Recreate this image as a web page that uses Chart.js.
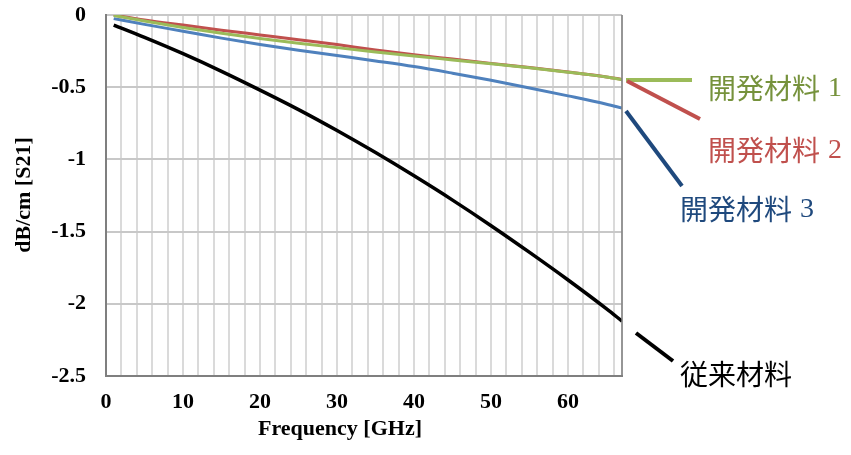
<!DOCTYPE html>
<html>
<head>
<meta charset="utf-8">
<script src="https://cdn.jsdelivr.net/npm/chart.js@4.4.1/dist/chart.umd.min.js"></script>
<style>
  html, body { margin: 0; padding: 0; background: #fff; }
  #wrap { width: 851px; height: 455px; }
</style>
</head>
<body>
<div id="wrap"><canvas id="lossChart" width="851" height="455"></canvas></div>
<script>
// frequency points [GHz]
const freq = [1, 5, 10, 15, 20, 25, 30, 35, 40, 45, 50, 55, 60, 65, 67];

// transmission loss dB/cm [S21]
const conventional = [-0.07, -0.155, -0.268, -0.39, -0.52, -0.655, -0.80, -0.953, -1.114, -1.282, -1.459, -1.644, -1.835, -2.035, -2.12];
const material1 = [-0.003, -0.042, -0.086, -0.126, -0.162, -0.195, -0.226, -0.256, -0.284, -0.311, -0.338, -0.366, -0.396, -0.43, -0.448];
const material2 = [0, -0.034, -0.07, -0.105, -0.138, -0.171, -0.205, -0.242, -0.275, -0.305, -0.335, -0.364, -0.395, -0.429, -0.446];
const material3 = [-0.025, -0.065, -0.112, -0.16, -0.204, -0.244, -0.281, -0.318, -0.357, -0.403, -0.452, -0.505, -0.56, -0.618, -0.645];

const xLabels = [0, 10, 20, 30, 40, 50, 60];
const yTicks = [0, -0.5, -1, -1.5, -2, -2.5];

const seriesNames = ["開発材料", "開発材料", "開発材料", "従来材料"];

function pts(vals) {
  return freq.map((f, i) => ({ x: f, y: vals[i] }));
}

// callout labels to the right of the plot (leader line + text)
const callouts = [
  { from: [626, 80], to: [692, 80], lc: "#9bbb59", tx: 708, ty: 88, text: "開発材料", num: "1", tc: "#76923c" },
  { from: [627, 81], to: [700, 119], lc: "#c0504d", tx: 708, ty: 150, text: "開発材料", num: "2", tc: "#c0504d" },
  { from: [626, 111], to: [682, 186], lc: "#1f497d", tx: 680, ty: 209, text: "開発材料", num: "3", tc: "#1f497d" },
  { from: [636, 333], to: [673, 361], lc: "#000000", tx: 680, ty: 374, text: "従来材料", num: "", tc: "#000000" }
];

const sidePlugin = {
  id: "side",
  afterDraw(chart) {
    const ctx = chart.ctx;
    const area = chart.chartArea;
    ctx.save();
    // right border of plot
    ctx.strokeStyle = "#7f7f7f";
    ctx.lineWidth = 1.5;
    ctx.beginPath();
    ctx.moveTo(area.right, area.top);
    ctx.lineTo(area.right, area.bottom);
    ctx.stroke();

    callouts.forEach((c) => {
      ctx.strokeStyle = c.lc;
      ctx.lineWidth = 4;
      ctx.beginPath();
      ctx.moveTo(c.from[0], c.from[1]);
      ctx.lineTo(c.to[0], c.to[1]);
      ctx.stroke();
      ctx.fillStyle = c.tc;
      ctx.textBaseline = "middle";
      ctx.textAlign = "left";
      ctx.font = '28px "Noto Sans CJK JP"';
      ctx.fillText(c.text, c.tx, c.ty);
      if (c.num) {
        const w = ctx.measureText(c.text).width;
        ctx.font = '28px "Liberation Serif"';
        ctx.fillText(c.num, c.tx + w + 8, c.ty + 1);
      }
    });

    // axis titles
    ctx.fillStyle = "#000";
    ctx.font = 'bold 22px "Liberation Serif"';
    ctx.textAlign = "center";
    ctx.textBaseline = "middle";
    ctx.fillText("Frequency [GHz]", 340, 429);
    ctx.translate(24, 195);
    ctx.rotate(-Math.PI / 2);
    ctx.fillText("dB/cm [S21]", 0, 0);
    ctx.restore();
  }
};

new Chart(document.getElementById("lossChart"), {
  type: "line",
  data: {
    datasets: [
      { label: seriesNames[3] , data: pts(conventional), borderColor: "#000000", borderWidth: 3.5, order: 1 },
      { label: seriesNames[0] + " 1", data: pts(material1), borderColor: "#9bbb59", borderWidth: 3, order: 2 },
      { label: seriesNames[1] + " 2", data: pts(material2), borderColor: "#c0504d", borderWidth: 3, order: 4 },
      { label: seriesNames[2] + " 3", data: pts(material3), borderColor: "#4f81bd", borderWidth: 3, order: 3 }
    ]
  },
  options: {
    responsive: false,
    animation: false,
    events: [],
    elements: {
      point: { radius: 0 },
      line: { tension: 0.4, cubicInterpolationMode: "monotone", fill: false }
    },
    layout: { padding: { top: 15, right: 229, left: 0, bottom: 0 } },
    plugins: { legend: { display: false }, tooltip: { enabled: false } },
    scales: {
      x: {
        type: "linear",
        min: 0,
        max: 67,
        afterFit(scale) {
          scale.height = 79;
          scale.paddingLeft = 0;
          scale.paddingRight = 0;
        },
        afterBuildTicks(scale) {
          const t = [];
          for (let v = 0; v <= 66; v += 2) t.push({ value: v });
          t.push({ value: 67 });
          scale.ticks = t;
        },
        grid: { color: "#dadada", lineWidth: 2, drawTicks: false },
        border: { color: "#7f7f7f", width: 2 },
        ticks: {
          autoSkip: false,
          maxRotation: 0,
          padding: 13,
          color: "#000",
          font: { family: "Liberation Serif", size: 22, weight: "bold" },
          callback: (v) => (xLabels.includes(v) ? String(v) : "")
        }
      },
      y: {
        min: -2.5,
        max: 0,
        afterFit(scale) {
          scale.width = 106;
          scale.paddingTop = 0;
          scale.paddingBottom = 0;
        },
        afterBuildTicks(scale) {
          scale.ticks = yTicks.map((v) => ({ value: v }));
        },
        grid: { color: "#c8c8c8", lineWidth: 2, drawTicks: false },
        border: { color: "#7f7f7f", width: 2 },
        ticks: {
          padding: 20,
          color: "#000",
          font: { family: "Liberation Serif", size: 22, weight: "bold" },
          callback: (v) => String(v)
        }
      }
    }
  },
  plugins: [sidePlugin]
});
</script>
</body>
</html>
